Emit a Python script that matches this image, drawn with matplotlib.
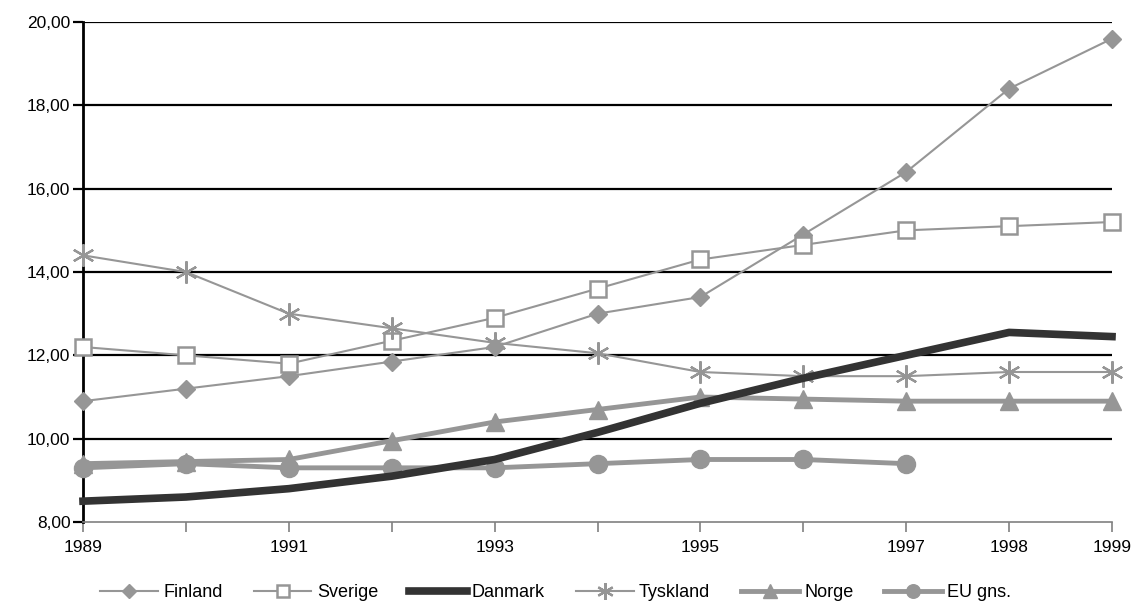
import matplotlib
matplotlib.use("Agg")
import matplotlib.pyplot as plt
import numpy as np

years = list(range(1989, 2000))
tick_labels = ["1989", "", "1991", "", "1993", "", "1995", "", "1997", "1998", "1999"]
y_ticks = [8, 10, 12, 14, 16, 18, 20]

finland = [10.9, 11.2, 11.5, 11.85, 12.2, 13.0, 13.4, 14.9, 16.4, 18.4, 19.6]
sverige = [12.2, 12.0, 11.8, 12.35, 12.9, 13.6, 14.3, 14.65, 15.0, 15.1, 15.2]
danmark = [8.5, 8.6, 8.8, 9.1, 9.5, 10.15, 10.85, 11.45, 12.0, 12.55, 12.45]
tyskland = [14.4, 14.0, 13.0, 12.65, 12.3, 12.05, 11.6, 11.5, 11.5, 11.6, 11.6]
norge = [9.4, 9.45, 9.5, 9.95, 10.4, 10.7, 11.0, 10.95, 10.9, 10.9, 10.9]
eu_gns = [9.3, 9.4, 9.3, 9.3, 9.3, 9.4, 9.5, 9.5, 9.4, np.nan, np.nan]

plt.rcParams['font.family'] = ['Liberation Sans', 'DejaVu Sans']

fig = plt.figure(figsize=(11.46, 6.10), dpi=100)
ax = fig.add_axes([83/1146, 1-522/610, (1112-83)/1146, (522-22)/610])

gray = "#969696"
dark = "#333333"

for v in y_ticks[1:]:
    ax.axhline(v, color="black", lw=1.6, zorder=1)

kw = dict(clip_on=False)
ax.plot(years, finland, color=gray, lw=1.5, marker="D", ms=9, mfc=gray, mec=gray, label="Finland", zorder=3, **kw)
ax.plot(years, sverige, color=gray, lw=1.5, marker="s", ms=12, mfc="white", mec=gray, mew=1.8, label="Sverige", zorder=3, **kw)
ax.plot(years, danmark, color=dark, lw=5.5, label="Danmark", zorder=4, **kw)
ax.plot(years, tyskland, color=gray, lw=1.5, marker=(6, 2, 0), ms=16, mec=gray, mew=1.6, label="Tyskland", zorder=3, **kw)
ax.plot(years, norge, color=gray, lw=3.5, marker="^", ms=13, mfc=gray, mec=gray, label="Norge", zorder=3, **kw)
ax.plot(years, eu_gns, color=gray, lw=3.5, marker="o", ms=13, mfc=gray, mec=gray, label="EU gns.", zorder=3, **kw)

ax.set_xlim(1989, 1999)
ax.set_ylim(8, 20)
ax.set_yticks(y_ticks)
ax.set_yticklabels([f"{v:.2f}".replace(".", ",") for v in y_ticks], fontsize=12.5)
ax.set_xticks(years)
ax.set_xticklabels(tick_labels, fontsize=12.5)

ax.spines["top"].set_visible(False)
ax.spines["right"].set_visible(False)
ax.spines["left"].set_color("black")
ax.spines["left"].set_linewidth(2)
ax.spines["bottom"].set_color("#808080")
ax.spines["bottom"].set_linewidth(1.2)
ax.tick_params(axis="y", length=7, width=1.6, color="black", pad=2)
ax.tick_params(axis="x", length=7, width=1.2, color="#808080", pad=6)

leg = fig.legend(loc="lower center", bbox_to_anchor=(0.485, -0.012), ncol=6, frameon=False,
                 fontsize=13, handlelength=3.2, handletextpad=0.3, columnspacing=1.7,
                 markerscale=0.75)

fig.savefig("out.png", dpi=100)
